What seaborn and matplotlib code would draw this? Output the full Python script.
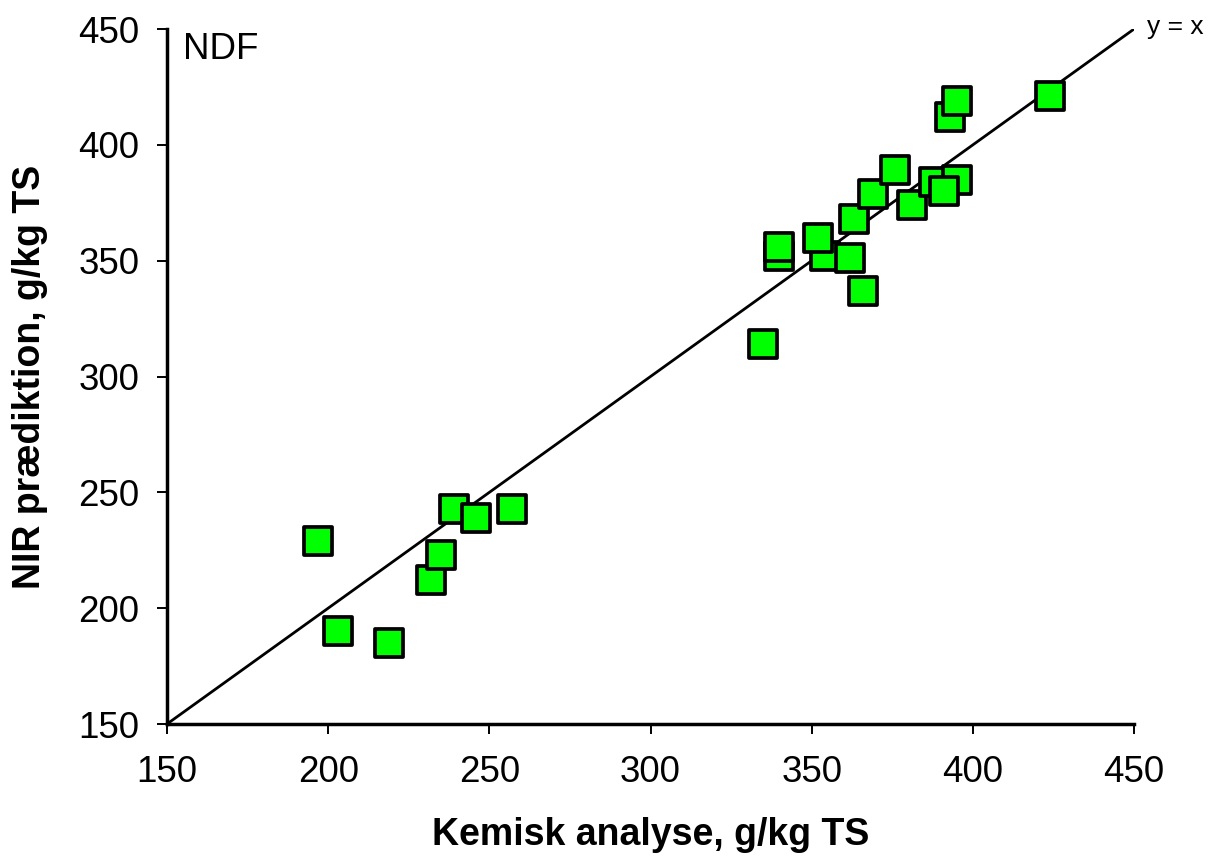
import matplotlib
matplotlib.use("Agg")
import matplotlib.pyplot as plt
import seaborn as sns
import pandas as pd

# Data
kemisk = [197, 203, 219, 232, 235, 239, 246, 257,
          335, 340, 340, 354, 352, 362, 366, 363, 369, 376,
          381, 388, 395, 391, 393, 395, 424]
nir = [229, 190, 185, 212, 223, 243, 239, 243,
       314, 352, 356, 352, 360, 351, 337, 368, 379, 389,
       374, 384, 385, 380, 412, 419, 421]

x_ticks = [150, 200, 250, 300, 350, 400, 450]
y_ticks = [150, 200, 250, 300, 350, 400, 450]
line_vals = [150, 450]

df = pd.DataFrame({"Kemisk": kemisk, "NIR": nir})

sns.set_theme(style="white")
plt.rcParams["font.family"] = ["Liberation Sans", "DejaVu Sans"]

fig = plt.figure(figsize=(12.09, 8.64), dpi=100)
ax = fig.add_axes([0.1381, 0.162, 0.7999, 0.8044])

ax.plot(line_vals, line_vals, color="black", lw=2.0, zorder=1)
sns.scatterplot(data=df, x="Kemisk", y="NIR", ax=ax, marker="s", s=400,
                color="#00FF00", edgecolor="black", linewidth=2.7, zorder=3,
                legend=False)
for coll in ax.collections:
    coll.set_joinstyle("round")
    coll.set_clip_on(False)

ax.set_xlim(150, 450)
ax.set_ylim(150, 450)
ax.set_xticks(x_ticks)
ax.set_yticks(y_ticks)
ax.tick_params(axis="both", which="major", direction="out", length=7, width=1.4,
               color="black", labelsize=26.5, labelcolor="black",
               bottom=True, left=True)
ax.tick_params(axis="x", pad=15)
ax.tick_params(axis="y", pad=13)

for side in ["top", "right"]:
    ax.spines[side].set_visible(False)
for side in ["left", "bottom"]:
    ax.spines[side].set_color("black")
    ax.spines[side].set_linewidth(2.5)

ax.set_xlabel("Kemisk analyse, g/kg TS", fontsize=27, fontweight="bold",
              color="black", labelpad=20)
ax.set_ylabel("NIR prædiktion, g/kg TS", fontsize=27, fontweight="bold",
              color="black", labelpad=22)

ax.text(155, 441, "NDF", fontsize=26.5, color="black", ha="left", va="center")
ax.text(454, 451, "y = x", fontsize=19, color="black", ha="left", va="center",
        clip_on=False)

fig.savefig("out.png", dpi=100)
